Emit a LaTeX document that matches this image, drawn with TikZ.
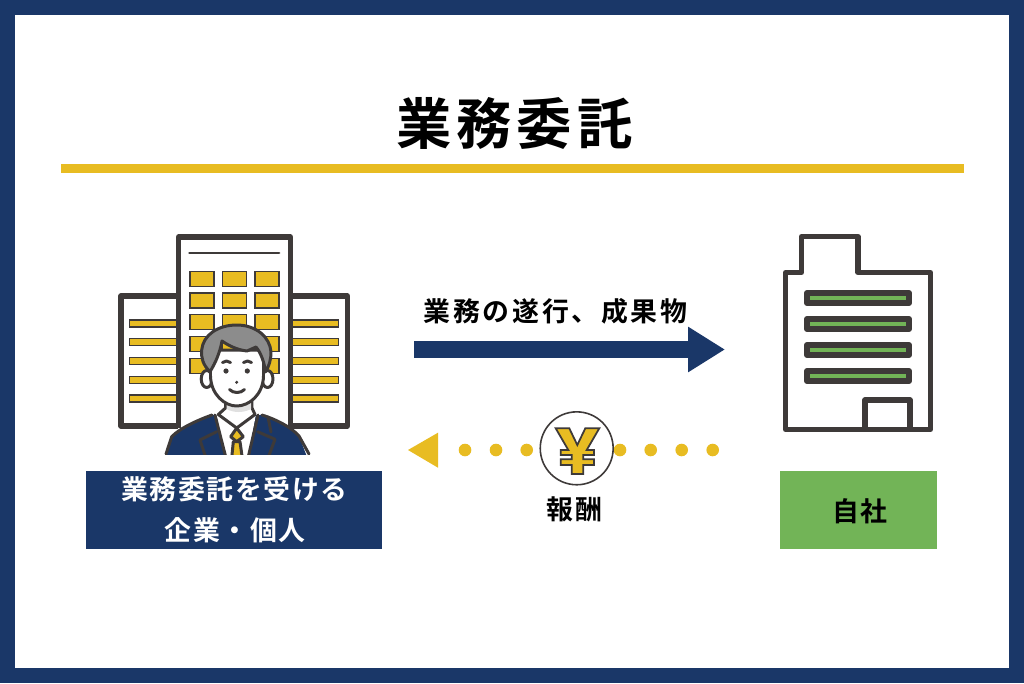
\documentclass[tikz,border=0pt]{standalone}
\usepackage{fontspec}
\usetikzlibrary{arrows.meta}
\usetikzlibrary{positioning}
\newfontfamily\cjk[LetterSpace=6]{Noto Sans CJK JP Bold}
\newfontfamily\cjkwide[LetterSpace=10]{Noto Sans CJK JP Bold}
\newfontfamily\cjktitle[LetterSpace=9]{Noto Sans CJK JP Bold}
\definecolor{navyc}{HTML}{1A3768}
\definecolor{yellowc}{HTML}{E8BC22}
\definecolor{greenc}{HTML}{72B457}
\definecolor{darkc}{HTML}{3E3A39}
\definecolor{hairc}{HTML}{8C8C8C}
\tikzset{
    heavyline/.style={draw=darkc, line width=2.9pt, line join=round},
    thinline/.style={draw=darkc, line width=1.7pt, line join=round, line cap=round},
    windowbox/.style={fill=yellowc, draw=darkc, line width=1.1pt},
    labeltext/.style={font=\cjk\fontsize{15.3pt}{18pt}\selectfont, inner sep=0pt},
}
\begin{document}
\begin{tikzpicture}[x=0.02cm, y=-0.02cm]
    \useasboundingbox (0,0) rectangle (1024,683);

    % Draw the frame
    \fill[navyc] (0,0) rectangle (1024,683);
    \fill[white] (15,15) rectangle (1009,668);

    % Draw the title and rule
    \node[font=\cjktitle\fontsize{31.5pt}{36pt}\selectfont, inner sep=0pt] (title) at (514.5,123) {業務委託};
    \fill[yellowc] (61,164) rectangle (964,173);

    % Side buildings
    \draw[heavyline] (178,296) -- (121,296) -- (121,426) -- (178,426);
    \draw[heavyline] (291,296) -- (347.5,296) -- (347.5,426) -- (291,426);
    \foreach \y in {323.3,342,361,380,398.7} {
        \draw[windowbox] (129.5,\y-3.5) rectangle (178,\y+3.5);
        \draw[windowbox] (291,\y-3.5) rectangle (338.5,\y+3.5);
    }

    % Centre building
    \draw[heavyline] (178.5,428) -- (178.5,237) -- (290.5,237) -- (290.5,428);
    \draw[thinline] (189.5,253) -- (279,253);
    \foreach \y in {271.5,292.8,314.5,336.5,358.5} {
        \foreach \x in {190,222.5,255} {
            \draw[windowbox] (\x,\y) rectangle (\x+24,\y+15);
        }
    }

    % Person
    \begin{scope}
        \clip (150,300) rectangle (330,454);
        % jacket
        \fill[navyc] (160,470) -- (171.7,436.7) .. controls (180,428) and (198,420) .. (212,415) -- (262,415)
            .. controls (278,420) and (292,428) .. (299,436) -- (312,470) -- cycle;
        \draw[thinline] (166,454) -- (171.7,436.7) .. controls (180,428) and (198,420) .. (212,415);
        \draw[thinline] (309,454) -- (299,436) .. controls (292,428) and (278,420) .. (262,415);
        % shirt and neck
        \fill[white] (216,414) -- (256,414) -- (248,458) -- (226,458) -- cycle;
        \draw[thinline, fill=white] (225.5,396) -- (225.5,408) -- (218.3,414.5) -- (236.7,428) -- (255,414.5) -- (252,408) -- (252,396);
        \fill[black!12] (226.5,403) -- (251,403) -- (251,409) .. controls (243,413) and (234,413) .. (226.5,409) -- cycle;
        % lapels
        \draw[thinline] (215,415) -- (226,458);
        \draw[thinline] (258,415) -- (248,458);
        \draw[thinline] (216.7,431.7) -- (200,440) -- (206,458);
        \draw[thinline] (257.7,431.7) -- (275,439.3) -- (268,458);
        \draw[thinline] (268,417) -- (271,432);
        % tie
        \draw[thinline, fill=yellowc] (233.3,441.7) -- (231.7,458) -- (242.3,458) -- (240,441.7) -- cycle;
        \draw[thinline, fill=yellowc] (236.7,428) -- (230.7,436.7) -- (236.7,441.7) -- (243.3,436.7) -- cycle;
    \end{scope}
    % ears and face
    \draw[thinline, fill=white] (206.7,379) ellipse (5.5 and 8.5);
    \draw[thinline, fill=white] (267.5,379) ellipse (5.5 and 8.5);
    \draw[thinline, fill=white] (210.5,350) -- (210.5,376) .. controls (211,395) and (225,406) .. (236.7,406)
        .. controls (249,406) and (263,395) .. (263.5,376) -- (263.5,350) -- cycle;
    % hair
    \draw[thinline, fill=hairc] (210,371.7) .. controls (203,365) and (201,358) .. (201.7,350)
        .. controls (203,335) and (218,325) .. (236.7,325) .. controls (256,325) and (270,337) .. (271,352)
        .. controls (271,360) and (269,366) .. (265.7,371.7) .. controls (264,362) and (261,353) .. (256,347)
        -- (247,351) .. controls (238,350) and (229,346) .. (222,341) .. controls (220,352) and (216,362) .. (210,371.7) -- cycle;
    % face details
    \fill[darkc] (226,371) circle (2.6);
    \fill[darkc] (247.3,371) circle (2.6);
    \fill[darkc] (236.7,382.3) circle (1.7);
    \draw[thinline] (222.5,362.5) .. controls (225,360.5) and (228,360.5) .. (230.5,362.5);
    \draw[thinline] (243.5,362.5) .. controls (246,360.5) and (249,360.5) .. (251.5,362.5);
    \draw[thinline] (229.5,389.5) .. controls (233,393.5) and (241,393.5) .. (244.5,389.5);

    % Labels on the left and right
    \fill[navyc] (86,471) rectangle (382,549);
    \node[labeltext, text=white] (clienta) at (234.5,489.5) {業務委託を受ける};
    \node[labeltext, text=white] (clientb) at (235,530.5) {企業・個人};
    \fill[greenc] (780,471) rectangle (937,549);
    \node[labeltext] (own) at (860,511) {自社};

    % Own company building
    \draw[heavyline] (785.5,429.5) -- (785.5,272.5) -- (801.5,272.5) -- (801.5,236.5) -- (858,236.5) -- (858,272.5) -- (930.5,272.5) -- (930.5,429.5) -- cycle;
    \foreach \y in {290,316,342,368} {
        \draw[fill=greenc, heavyline, line width=3.4pt] (807,\y+3) rectangle (909,\y+13);
    }
    \draw[heavyline] (865,429.5) -- (865,400) -- (910,400) -- (910,429.5);

    % Arrow for the work
    \node[labeltext, font=\cjkwide\fontsize{15.3pt}{18pt}\selectfont] (worklabel) at (555.5,311.5) {業務の遂行、成果物};
    \coordinate (workstart) at (414,349.5);
    \coordinate (workend) at (725,349.5);
    \draw[navyc, line width=9.6pt, -{Triangle[length=21pt, width=24.4pt]}] (workstart) -- (workend);

    % Dotted arrow for the payment
    \foreach \x in {465,496,526.7,620,650.7,681.7,712.7} {
        \fill[yellowc] (\x,450) circle (6.3);
    }
    \fill[yellowc] (408,450) -- (438,432.7) -- (438,467.7) -- cycle;
    \node[circle, draw=darkc, fill=white, line width=0.9pt, minimum size=41.5pt, inner sep=0pt] (yen) at (576.7,448.3) {};
    \draw[fill=yellowc, draw=darkc, line width=1pt, line join=miter]
        (555.7,428.3) -- (569.3,428.3) -- (577.3,445) -- (585.3,428.3) -- (599.3,428.3) -- (586.7,450) -- (594,450)
        -- (594,455) -- (583.3,455) -- (583.3,459.3) -- (594,459.3) -- (594,465) -- (583.3,465) -- (583.3,474)
        -- (571.7,474) -- (571.7,465) -- (560.7,465) -- (560.7,459.3) -- (571.7,459.3) -- (571.7,455) -- (560.7,455)
        -- (560.7,450) -- (568.3,450) -- cycle;
    \node[labeltext] (paylabel) at (574.5,509) {報酬};
\end{tikzpicture}
\end{document}
